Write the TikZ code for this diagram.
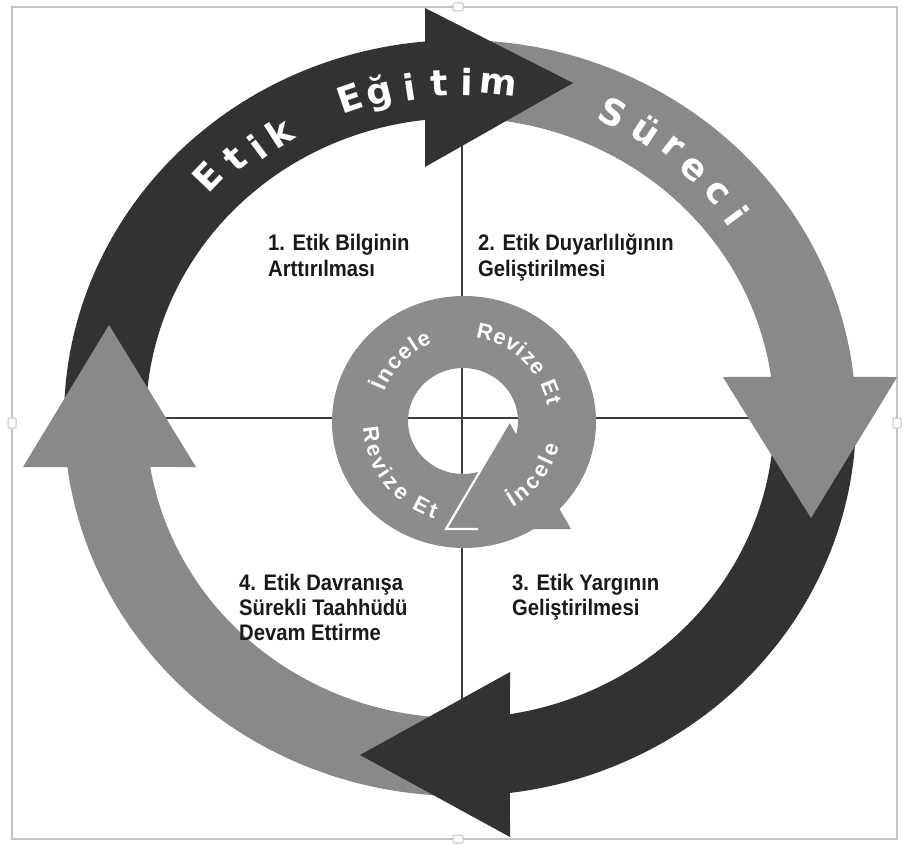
\documentclass[tikz,border=0pt]{standalone}
\usepackage{fontspec}
\setmainfont{Liberation Sans}
\newfontfamily\arcfont{DejaVu Sans}
\newfontfamily\ringfont{Liberation Sans}
\newfontfamily\labelfont[FakeStretch=0.9]{Liberation Sans}
\definecolor{darkarrow}{RGB}{50,50,50}
\definecolor{grayarrow}{RGB}{137,137,137}
\definecolor{ringgray}{RGB}{140,140,140}
\definecolor{crossline}{RGB}{60,60,60}
\definecolor{framegray}{RGB}{195,195,195}
\definecolor{labeltext}{RGB}{25,25,25}
\begin{document}
\begin{tikzpicture}[x=1pt,y=-1pt,
  lbl/.style={anchor=base west, inner sep=0pt, text=labeltext,
    font=\labelfont\fontsize{22.5}{25}\selectfont\bfseries},
  bigch/.style={text=white, inner sep=0pt, anchor=center,
    font=\arcfont\fontsize{36}{36}\selectfont\bfseries},
  smallch/.style={text=white, inner sep=0pt, anchor=base,
    font=\ringfont\fontsize{22}{22}\selectfont\bfseries},
  handle/.style={draw=framegray, fill=white, line width=1pt, rounded corners=1pt}]
\useasboundingbox (0,0) rectangle (904,845);
% frame
\draw[framegray, line width=1.8pt] (12,7) rectangle (897,839);
% cross lines
\draw[crossline, line width=1.3pt] (60,418) -- (860,418);
\draw[crossline, line width=1.3pt] (462,60) -- (462,780);
% arrow 2 (gray, right)
\fill[grayarrow] plot[domain=270:353.77, samples=70] ({460+396*cos(\x)},{418+378*sin(\x)})
  -- (897,377) -- (811,518) -- (723,377)
  -- plot[domain=352.14:270, samples=70] ({460+314*cos(\x)},{418+300*sin(\x)}) -- cycle;
% arrow 1 (dark, top)
\fill[darkarrow] plot[domain=180:264.93, samples=70] ({460+396*cos(\x)},{418+378*sin(\x)})
  -- (425,8) -- (573,83) -- (425,167)
  -- plot[domain=263.6:180, samples=70] ({460+314*cos(\x)},{418+300*sin(\x)}) -- cycle;
% arrow 4 (gray, left)
\fill[grayarrow] plot[domain=90:172.55, samples=70] ({460+396*cos(\x)},{418+378*sin(\x)})
  -- (23,467) -- (109,325) -- (196,467)
  -- plot[domain=170.6:90, samples=70] ({460+314*cos(\x)},{418+300*sin(\x)}) -- cycle;
% arrow 3 (dark, bottom)
\fill[darkarrow] plot[domain=0:82.75, samples=70] ({460+396*cos(\x)},{418+378*sin(\x)})
  -- (510,837) -- (360,755) -- (510,672)
  -- plot[domain=80.84:0, samples=70] ({460+314*cos(\x)},{418+300*sin(\x)}) -- cycle;
% head of arrow 2 again on top
\fill[grayarrow] (897,377) -- (811,518) -- (723,377) -- cycle;
% handles
\draw[handle] (453,3) rectangle (463,11);
\draw[handle] (453,835) rectangle (463,843);
\draw[handle] (8,418) rectangle (16,428);
\draw[handle] (893,418) rectangle (901,428);
% outer curved text
\foreach \ch/\px/\py/\rt [count=\i] in {E/207/177/46.4, t/235/158/40.9, i/257/147/36.8, k/279/133/32.6,
  E/350/98/19, ğ/380/93/13.8, i/410/87/8.6, t/439/83/3.4, i/467/82/-1.2, m/498/85/-6.3,
  S/613/113/-26.6, ü/647/130/-33, r/673/147/-38.2, e/693/170/-43.2, c/717/193/-48.8, i/737/215/-53.8}
  \node[bigch, rotate=\rt] (big\i) at (\px,\py) {\ch};
% inner circular arrow
\fill[ringgray, even odd rule] (464,422) ellipse [x radius=132pt, y radius=126pt]
  (463,421) ellipse [x radius=55pt, y radius=53pt];
\fill[ringgray] (446,529) -- (509,422) -- (571,529) -- cycle;
\draw[white, line width=2.2pt, line join=miter] (478,529) -- (446,529) -- (509,422);
% inner texts
\foreach \ch/\an [count=\i] in {R/76.76, e/66.95, v/58.21, i/51.27, z/44.70, e/36.33, E/21.73, t/13.72}
  \node[smallch, rotate=\an-90] (ur\i) at ({464+85*cos(\an)},{422-85*sin(\an)}) {\ch};
\foreach \ch/\an [count=\i] in {İ/156.67, n/149.07, c/139.67, e/130.63, l/123.38, e/116.14}
  \node[smallch, rotate=\an-90] (ul\i) at ({464+85*cos(\an)},{422-85*sin(\an)}) {\ch};
\foreach \ch/\an [count=\i] in {R/187.74, e/197.55, v/206.29, i/213.23, z/219.80, e/228.17, E/242.77, t/250.78}
  \node[smallch, rotate=\an+90] (ll\i) at ({464+101*cos(\an)},{422-101*sin(\an)}) {\ch};
\foreach \ch/\an [count=\i] in {İ/301.58, n/309.18, c/318.58, e/327.62, l/334.87, e/342.11}
  \node[smallch, rotate=\an+90] (lr\i) at ({464+98*cos(\an)},{422-98*sin(\an)}) {\ch};
% quadrant labels
\node[lbl] (l1a) at (268,250) {1. Etik Bilginin};
\node[lbl] (l1b) at (268,276) {Arttırılması};
\node[lbl] (l2a) at (478,250) {2. Etik Duyarlılığının};
\node[lbl] (l2b) at (478,276) {Geliştirilmesi};
\node[lbl] (l3a) at (512,590) {3. Etik Yargının};
\node[lbl] (l3b) at (512,615) {Geliştirilmesi};
\node[lbl] (l4a) at (239,590) {4. Etik Davranışa};
\node[lbl] (l4b) at (239,615) {Sürekli Taahhüdü};
\node[lbl] (l4c) at (239,640) {Devam Ettirme};
\end{tikzpicture}
\end{document}
